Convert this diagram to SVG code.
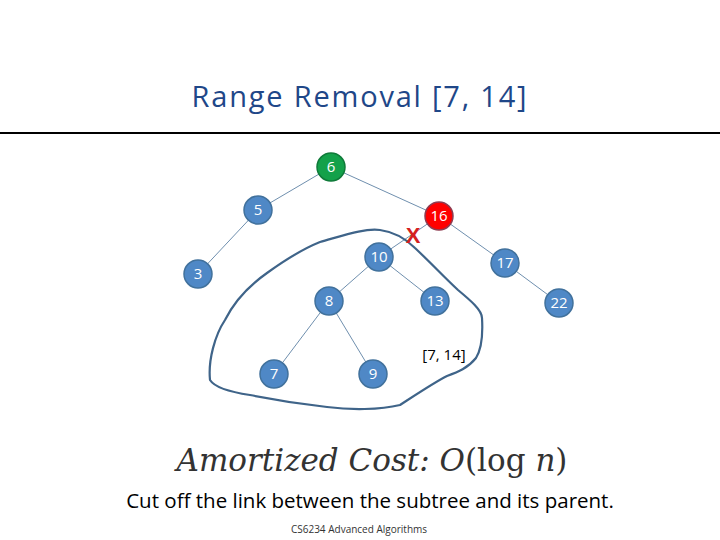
<svg xmlns="http://www.w3.org/2000/svg" width="720" height="540" viewBox="0 0 720 540">
<style>
.n circle{fill:#4f88c6;stroke:#41719c;stroke-width:1.5}
.n text{fill:#fff;font-family:"Open Sans","DejaVu Sans",sans-serif;font-size:15px;text-anchor:middle}
.e line{stroke:#6f8fae;stroke-width:1}
</style>
<rect width="720" height="540" fill="#fff"/>
<text x="360" y="107" font-family="Open Sans,DejaVu Sans,sans-serif" font-size="29" letter-spacing="1.8" fill="#1f4788" text-anchor="middle">Range Removal [7, 14]</text>
<line x1="0" y1="133" x2="720" y2="133" stroke="#000" stroke-width="2"/>
<g id="connectors" class="e">
<line x1="331" y1="167" x2="258" y2="210"/>
<line x1="331" y1="167" x2="439" y2="216"/>
<line x1="258" y1="210" x2="198" y2="274"/>
<line x1="439" y1="216" x2="379" y2="257"/>
<line x1="439" y1="216" x2="505" y2="263"/>
<line x1="505" y1="263" x2="559" y2="303"/>
<line x1="379" y1="257" x2="329" y2="301"/>
<line x1="379" y1="257" x2="435" y2="301"/>
<line x1="329" y1="301" x2="274" y2="374"/>
<line x1="329" y1="301" x2="373" y2="374"/>
</g>
<path id="blob" d="M380,230 C395,232 405,238 415,248 C430,262 445,278 458,290 C470,300 482,310 482,318 C483,335 481,350 476,358 C468,368 458,372 447,376 C435,382 420,392 400,405 C380,410 350,410 327,407 C300,404 275,400 250,395 C230,392 215,388 210,380 C208,360 215,335 225,320 C235,300 250,285 267,273 C285,260 300,250 320,242 C345,235 365,228 380,230 Z" fill="none" stroke="#3f6489" stroke-width="2.2"/>
<g id="n6" class="n"><circle cx="331" cy="167" r="14" style="fill:#13a14a;stroke:#0f7a39"/><text x="331" y="172">6</text></g>
<g id="n5" class="n"><circle cx="258" cy="210" r="14"/><text x="258" y="215">5</text></g>
<g id="n16" class="n"><circle cx="439" cy="216" r="14" style="fill:#f00;stroke:#8e3b50"/><text x="439" y="221">16</text></g>
<g id="n3" class="n"><circle cx="198" cy="274" r="14"/><text x="198" y="279">3</text></g>
<g id="n10" class="n"><circle cx="379" cy="257" r="14"/><text x="379" y="262">10</text></g>
<g id="n17" class="n"><circle cx="505" cy="263" r="14"/><text x="505" y="268">17</text></g>
<g id="n8" class="n"><circle cx="329" cy="301" r="14"/><text x="329" y="306">8</text></g>
<g id="n13" class="n"><circle cx="435" cy="301" r="14"/><text x="435" y="306">13</text></g>
<g id="n22" class="n"><circle cx="559" cy="303" r="14"/><text x="559" y="308">22</text></g>
<g id="n7" class="n"><circle cx="274" cy="374" r="14"/><text x="274" y="379">7</text></g>
<g id="n9" class="n"><circle cx="373" cy="374" r="14"/><text x="373" y="379">9</text></g>
<text x="413" y="243" font-family="Liberation Sans,sans-serif" font-size="22" font-weight="bold" fill="#d42020" text-anchor="middle">X</text>
<text x="444" y="360" font-family="Open Sans,DejaVu Sans,sans-serif" font-size="15" fill="#000" text-anchor="middle">[7, 14]</text>
<text x="372" y="471" font-family="DejaVu Serif,serif" font-size="31" font-style="italic" fill="#333" text-anchor="middle">Amortized Cost: <tspan font-style="italic">O</tspan><tspan font-style="normal">(log </tspan>n<tspan font-style="normal">)</tspan></text>
<text x="370" y="508" font-family="Open Sans,DejaVu Sans,sans-serif" font-size="20.5" fill="#000" text-anchor="middle">Cut off the link between the subtree and its parent.</text>
<text x="359" y="533" font-family="Open Sans,DejaVu Sans,sans-serif" font-size="10" fill="#333" text-anchor="middle">CS6234 Advanced Algorithms</text>
</svg>
